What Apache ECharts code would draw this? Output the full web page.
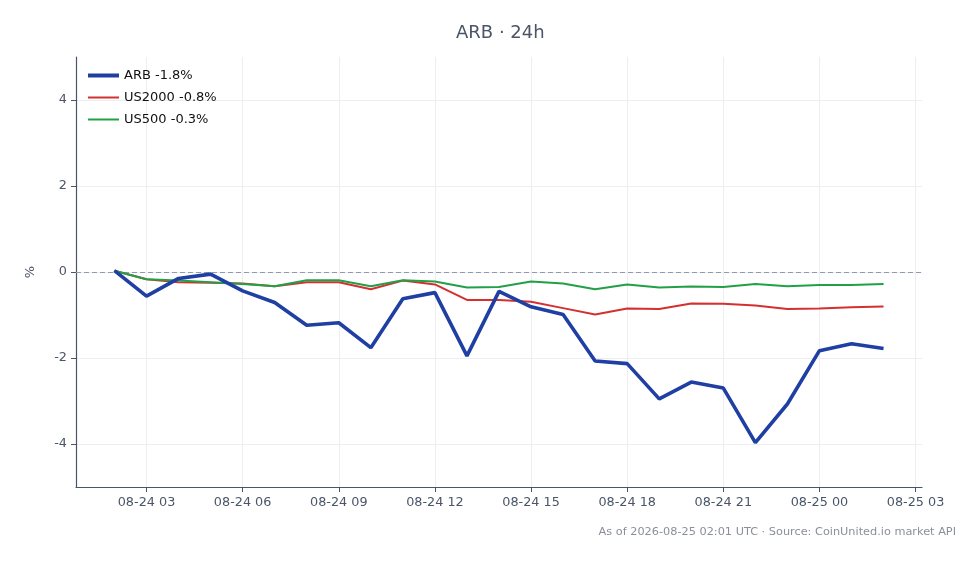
<!DOCTYPE html>
<html>
<head>
<meta charset="utf-8">
<title>ARB · 24h</title>
<script src="https://cdn.jsdelivr.net/npm/echarts@6/dist/echarts.min.js"></script>
<style>
    html, body { margin: 0; padding: 0; background: #ffffff; }
    #chart { width: 980px; height: 564px; }
</style>
</head>
<body>
<div id="chart"></div>
<script>
// hourly samples, UTC
const times = [
    '2026-08-24T02:00:00Z', '2026-08-24T03:00:00Z', '2026-08-24T04:00:00Z', '2026-08-24T05:00:00Z',
    '2026-08-24T06:00:00Z', '2026-08-24T07:00:00Z', '2026-08-24T08:00:00Z', '2026-08-24T09:00:00Z',
    '2026-08-24T10:00:00Z', '2026-08-24T11:00:00Z', '2026-08-24T12:00:00Z', '2026-08-24T13:00:00Z',
    '2026-08-24T14:00:00Z', '2026-08-24T15:00:00Z', '2026-08-24T16:00:00Z', '2026-08-24T17:00:00Z',
    '2026-08-24T18:00:00Z', '2026-08-24T19:00:00Z', '2026-08-24T20:00:00Z', '2026-08-24T21:00:00Z',
    '2026-08-24T22:00:00Z', '2026-08-24T23:00:00Z', '2026-08-25T00:00:00Z', '2026-08-25T01:00:00Z',
    '2026-08-25T02:00:00Z'
];
const arb = [0.03, -0.56, -0.15, -0.05, -0.44, -0.71, -1.24, -1.18, -1.76, -0.62, -0.48, -1.95,
    -0.45, -0.81, -0.99, -2.07, -2.13, -2.95, -2.56, -2.70, -3.97, -3.07, -1.83, -1.67, -1.78];
const us2000 = [0.03, -0.17, -0.24, -0.25, -0.27, -0.33, -0.24, -0.24, -0.40, -0.20, -0.29, -0.65,
    -0.65, -0.69, -0.84, -0.99, -0.85, -0.86, -0.73, -0.74, -0.78, -0.86, -0.85, -0.82, -0.80];
const us500 = [0.03, -0.17, -0.20, -0.24, -0.28, -0.33, -0.19, -0.19, -0.33, -0.19, -0.22, -0.36,
    -0.35, -0.22, -0.27, -0.40, -0.29, -0.36, -0.34, -0.35, -0.28, -0.33, -0.30, -0.30, -0.28];
const seriesNames = ['ARB -1.8%', 'US2000 -0.8%', 'US500 -0.3%'];
const tickTimes = [
    '2026-08-24T03:00:00Z', '2026-08-24T06:00:00Z', '2026-08-24T09:00:00Z', '2026-08-24T12:00:00Z',
    '2026-08-24T15:00:00Z', '2026-08-24T18:00:00Z', '2026-08-24T21:00:00Z', '2026-08-25T00:00:00Z',
    '2026-08-25T03:00:00Z'
];
const yTicks = [-4, -2, 0, 2, 4];

const font = 'DejaVu Sans';
const axisColor = '#4a5568';
// legend swatches: flat bars, thicker for ARB
const thickBar = 'path://M0,0H31V4H0Z';
const thinBar = 'path://M0,0H31V2H0Z';

let stamps = times.map(t => Date.parse(t));
let tickStamps = tickTimes.map(t => Date.parse(t));
// 5% margin either side of the data range
let span = stamps[stamps.length - 1] - stamps[0];
let xMin = stamps[0] - span * 0.05;
let xMax = stamps[stamps.length - 1] + span * 0.05;

function pad(n) {
    return (n < 10 ? '0' : '') + n;
}

function formatTick(value) {
    let d = new Date(value);
    return pad(d.getUTCMonth() + 1) + '-' + pad(d.getUTCDate()) + ' ' + pad(d.getUTCHours());
}

function pairs(values) {
    return values.map((v, i) => [stamps[i], v]);
}

let myChart = echarts.init(document.getElementById('chart'), null, {renderer: 'canvas'});
let option = {
    backgroundColor: '#ffffff',
    animation: false,
    textStyle: {fontFamily: font},
    title: {
        text: 'ARB · 24h',
        left: 451,
        top: 19,
        textStyle: {fontFamily: font, fontSize: 18, fontWeight: 'normal', color: axisColor}
    },
    graphic: [{
        type: 'text',
        right: 24,
        top: 527,
        style: {
            text: 'As of 2026-08-25 02:01 UTC · Source: CoinUnited.io market API',
            fontFamily: font,
            fontSize: 11.3,
            fill: '#8a8f99'
        }
    }],
    legend: {
        orient: 'vertical',
        left: 83,
        top: 64,
        itemWidth: 31,
        itemHeight: 10,
        itemGap: 9,
        data: [
            {name: seriesNames[0], icon: thickBar},
            {name: seriesNames[1], icon: thinBar},
            {name: seriesNames[2], icon: thinBar}
        ],
        textStyle: {fontFamily: font, fontSize: 13, color: '#111111'}
    },
    grid: {left: 76, right: 58, top: 57, bottom: 77, containLabel: false},
    xAxis: {
        type: 'value',
        min: xMin,
        max: xMax,
        axisLine: {show: true, onZero: false, lineStyle: {color: axisColor, width: 1.2}},
        axisTick: {show: true, customValues: tickStamps, length: 5, lineStyle: {color: axisColor}},
        axisLabel: {
            customValues: tickStamps,
            formatter: formatTick,
            color: axisColor,
            fontFamily: font,
            fontSize: 12.8,
            margin: 9
        },
        splitLine: {show: true, lineStyle: {color: '#eceef2', width: 1}}
    },
    yAxis: {
        type: 'value',
        min: -5,
        max: 5,
        name: '%',
        nameLocation: 'middle',
        nameGap: 39,
        nameRotate: 90,
        nameTextStyle: {fontFamily: font, fontSize: 13, color: axisColor},
        axisLine: {show: true, onZero: false, lineStyle: {color: axisColor, width: 1.2}},
        axisTick: {show: true, customValues: yTicks, length: 5, lineStyle: {color: axisColor}},
        axisLabel: {customValues: yTicks, color: axisColor, fontFamily: font, fontSize: 12.8, margin: 9},
        splitLine: {show: true, lineStyle: {color: '#eceef2', width: 1}}
    },
    series: [
        {
            name: seriesNames[0],
            type: 'line',
            data: pairs(arb),
            showSymbol: false,
            symbol: 'none',
            z: 4,
            color: '#1f3fa3',
            lineStyle: {width: 3.6, color: '#1f3fa3'}
        },
        {
            name: seriesNames[1],
            type: 'line',
            data: pairs(us2000),
            showSymbol: false,
            symbol: 'none',
            z: 3,
            color: '#d43030',
            lineStyle: {width: 2, color: '#d43030'}
        },
        {
            name: seriesNames[2],
            type: 'line',
            data: pairs(us500),
            showSymbol: false,
            symbol: 'none',
            z: 3,
            color: '#22a048',
            lineStyle: {width: 2, color: '#22a048'},
            markLine: {
                silent: true,
                symbol: 'none',
                z: 1,
                label: {show: false},
                lineStyle: {type: [5, 3], color: '#8e9bb3', width: 1.2},
                data: [{yAxis: 0}]
            }
        }
    ]
};
myChart.setOption(option);
</script>
</body>
</html>
